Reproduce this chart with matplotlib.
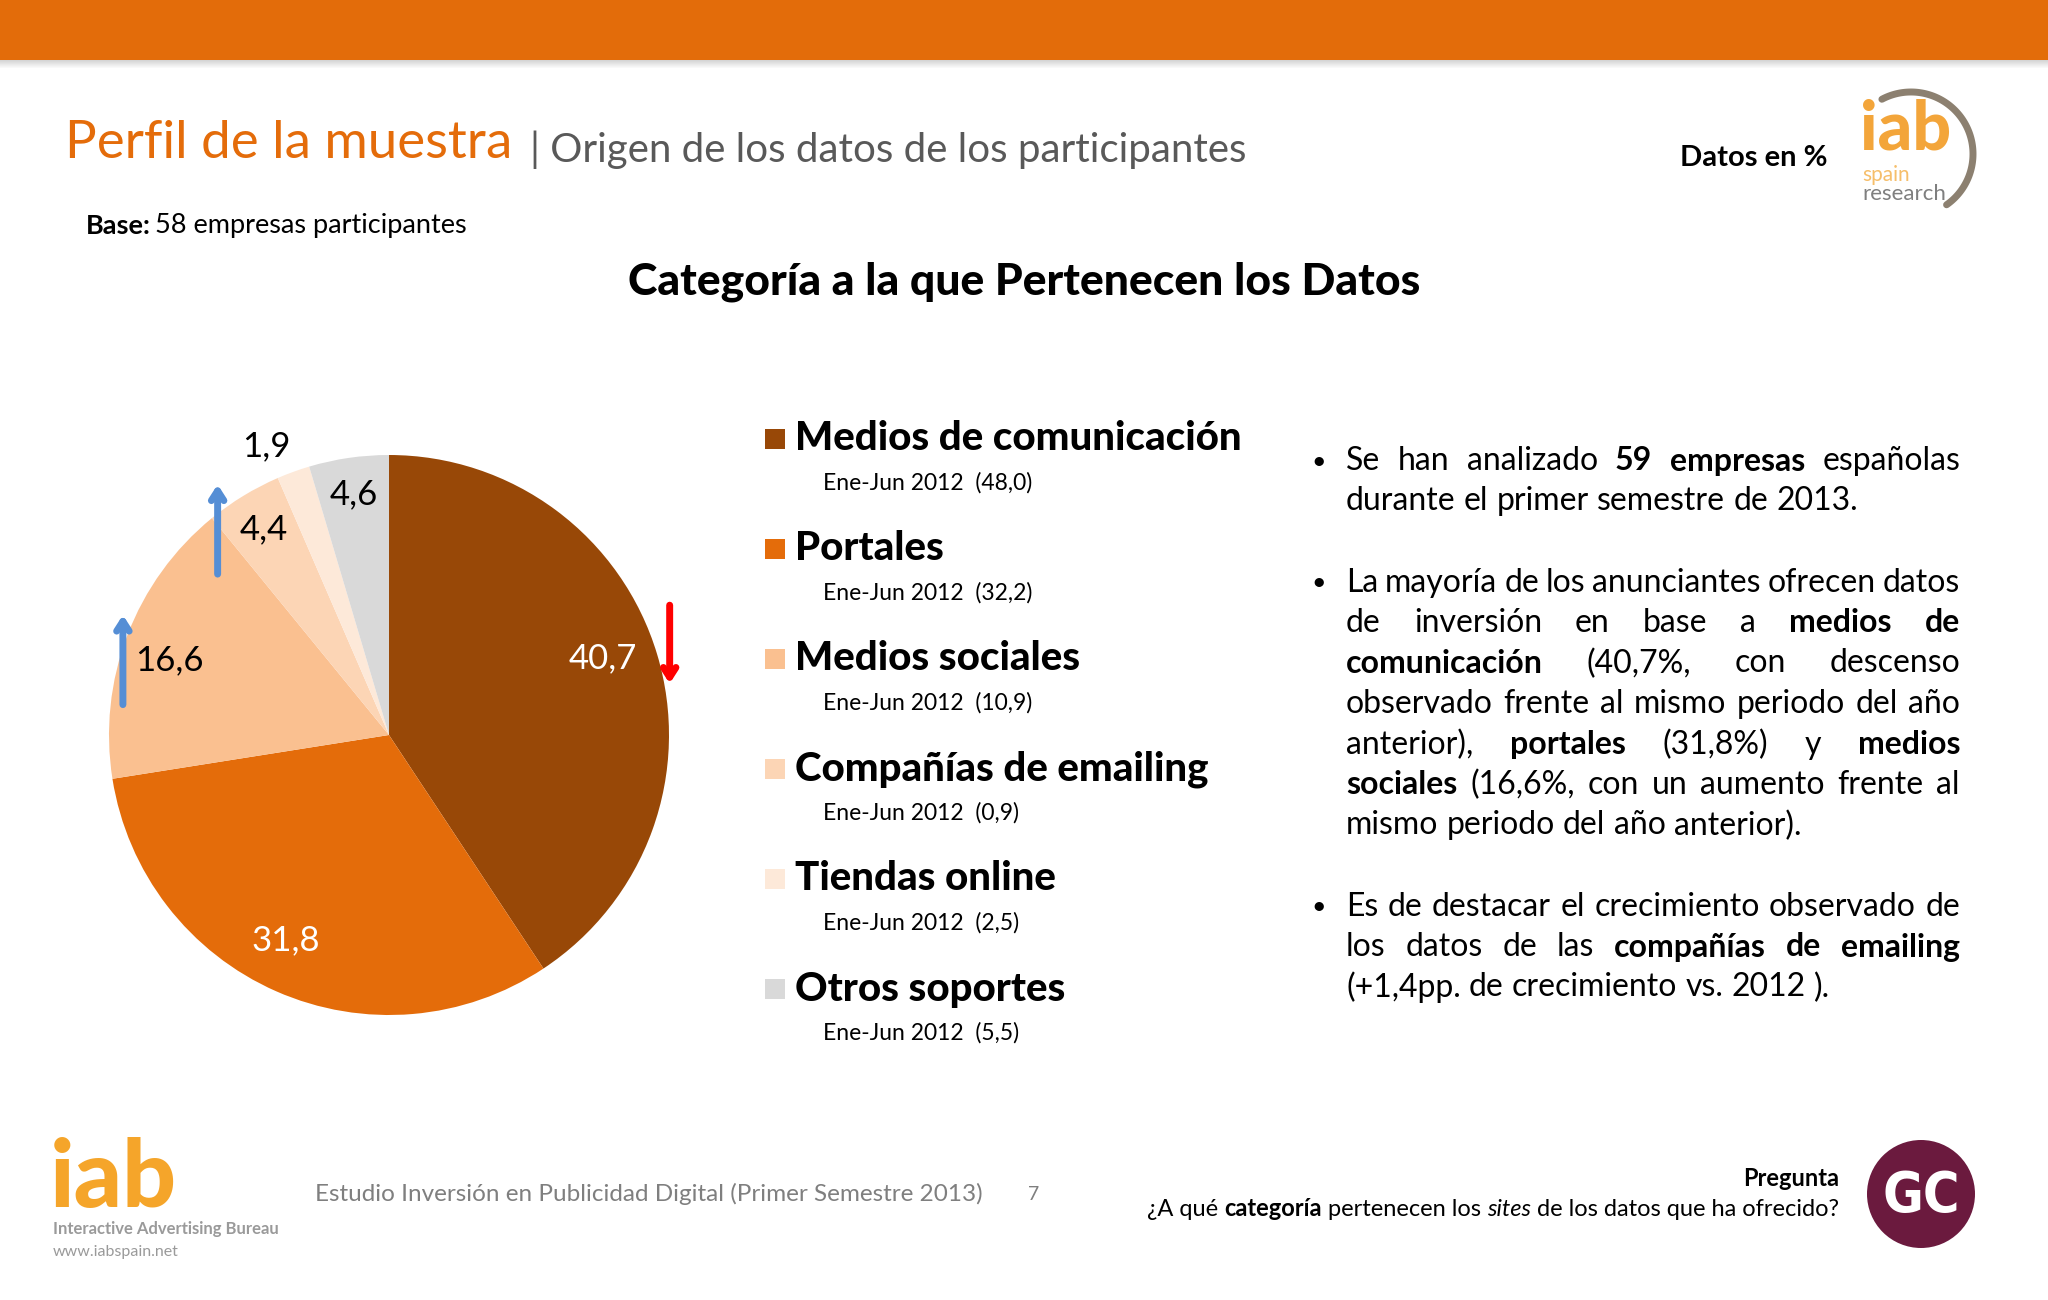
import numpy as np
import matplotlib
matplotlib.use('Agg')
import matplotlib.pyplot as plt
from matplotlib.patches import Rectangle, Circle

plt.rcParams['font.family'] = ['Lato', 'DejaVu Sans']

# datos del grafico
categorias = ['Medios de comunicación', 'Portales', 'Medios sociales',
              'Compañías de emailing', 'Tiendas online', 'Otros soportes']
valores_2013 = [40.7, 31.8, 16.6, 4.4, 1.9, 4.6]
etiquetas_2013 = ['40,7', '31,8', '16,6', '4,4', '1,9', '4,6']
valores_2012 = ['48,0', '32,2', '10,9', '0,9', '2,5', '5,5']
tendencia = ['down', None, 'up', 'up', None, None]
colores = ['#984807', '#E46C0A', '#FAC090', '#FCD5B5', '#FDE9D9', '#D9D9D9']
color_etiqueta = ['white', 'white', 'black', 'black', 'black', 'black']
radio_etiqueta = [0.81, 0.82, 0.83, 0.86, 1.12, 0.87]
giro_etiqueta = [3, -3, 2, 0, 3, 0]

bullets = [
    ['Se han analizado **59 empresas** españolas',
     'durante el primer semestre de 2013.'],
    ['La mayoría de los anunciantes ofrecen datos',
     'de inversión en base a **medios de**',
     '**comunicación** (40,7%, con descenso',
     'observado frente al mismo periodo del año',
     'anterior), **portales** (31,8%) y **medios**',
     '**sociales** (16,6%, con un aumento frente al',
     'mismo periodo del año anterior).'],
    ['Es de destacar el crecimiento observado de',
     'los datos de las **compañías de emailing**',
     '(+1,4pp. de crecimiento vs. 2012 ).'],
]

W, H = 2048, 1300
fig = plt.figure(figsize=(W / 100, H / 100), dpi=100)
bg = fig.add_axes([0, 0, 1, 1])
bg.set_xlim(0, W)
bg.set_ylim(H, 0)
bg.axis('off')
renderer = fig.canvas.get_renderer()


def ancho(t):
    return t.get_window_extent(renderer).width


# franja naranja superior con sombra
bg.add_patch(Rectangle((0, 0), W, 60, color='#E36C0A', lw=0))
for i in range(8):
    bg.add_patch(Rectangle((0, 60 + i), W, 1, color='#888888', alpha=0.35 * (1 - i / 8), lw=0))

# titulo
t = bg.text(65, 144, 'Perfil de la muestra', fontsize=38, color='#E46C0A', va='center')
x = 65 + ancho(t) + 18
bg.text(x, 150, '| Origen de los datos de los participantes', fontsize=29,
        color='#595959', va='center')
bg.text(1828, 158, 'Datos en %', fontsize=21, fontweight='bold', ha='right', va='center')

# logo iab research
bg.text(1860, 130, 'iab', fontsize=49, fontweight='black', color='#F3A53A', va='center')
bg.text(1862, 175, 'spain', fontsize=15, color='#F6BE6A', va='center')
bg.text(1862, 194, 'research', fontsize=16, color='#7F7F7F', va='center')
ang = np.radians(np.linspace(-55, 118, 100))
bg.plot(1911 + 62 * np.cos(ang), 154 - 62 * np.sin(ang), color='#8C8070', lw=5,
        solid_capstyle='round')

t = bg.text(86, 226, 'Base:', fontsize=19.5, fontweight='bold', va='center')
bg.text(86 + ancho(t) + 4, 226, '58 empresas participantes', fontsize=19.5, va='center')

bg.text(1024, 282, 'Categoría a la que Pertenecen los Datos', fontsize=32,
        fontweight='black', ha='center', va='center')

# tarta
cx, cy, r = 389, 735, 280
ax = fig.add_axes([(cx - r) / W, (H - cy - r) / H, 2 * r / W, 2 * r / H])
wedges, _ = ax.pie(valores_2013, colors=colores, startangle=90, counterclock=False,
                   radius=1, wedgeprops=dict(linewidth=0))
ax.set_xlim(-1, 1)
ax.set_ylim(-1, 1)
ax.set_aspect('equal')
ax.axis('off')
flecha = '->,head_length=0.7,head_width=0.45'
for w, lab, c, rr, g, tr in zip(wedges, etiquetas_2013, color_etiqueta, radio_etiqueta,
                                giro_etiqueta, tendencia):
    a = np.radians((w.theta1 + w.theta2) / 2 + g)
    lx, ly = rr * np.cos(a), rr * np.sin(a)
    ax.text(lx, ly, lab, fontsize=25, color=c, ha='center', va='center', clip_on=False)
    if tr == 'down':
        ax.annotate('', xy=(lx + 0.24, ly - 0.10), xytext=(lx + 0.24, ly + 0.20),
                    arrowprops=dict(arrowstyle=flecha, color='#FF0000', lw=5),
                    annotation_clip=False)
    elif tr == 'up':
        ax.annotate('', xy=(lx - 0.165, ly + 0.17), xytext=(lx - 0.165, ly - 0.17),
                    arrowprops=dict(arrowstyle=flecha, color='#558ED5', lw=5),
                    annotation_clip=False)

# leyenda
for i, (cat, v12, col) in enumerate(zip(categorias, valores_2012, colores)):
    y = 439 + i * 110
    bg.add_patch(Rectangle((765, y - 10), 20, 20, color=col, lw=0))
    bg.text(795, y, cat, fontsize=29, fontweight='black', va='center')
    bg.text(823, y + 44, 'Ene-Jun 2012  (%s)' % v12, fontsize=16.5, va='center')

# texto justificado
x0, x1 = 1346, 1960
tam = 23
fila = 0
for par in bullets:
    bg.text(1319, 461 + fila * 40.5, '•', fontsize=18, va='center', ha='center')
    for j, linea in enumerate(par):
        y = 461 + fila * 40.5
        tokens = []
        for k, seg in enumerate(linea.split('**')):
            for pal in seg.split():
                tokens.append((pal, k % 2 == 1))
        textos = [bg.text(0, y, p, fontsize=tam, va='center',
                          fontweight='bold' if b else 'normal') for p, b in tokens]
        anchos = [ancho(tt) for tt in textos]
        if j == len(par) - 1:
            hueco = ancho(bg.text(0, 0, 'a a', fontsize=tam, alpha=0)) - \
                2 * ancho(bg.text(0, 0, 'a', fontsize=tam, alpha=0))
        else:
            hueco = (x1 - x0 - sum(anchos)) / (len(textos) - 1)
        xx = x0
        for tt, wd in zip(textos, anchos):
            tt.set_x(xx)
            xx += wd + hueco
        fila += 1
    fila += 1

# pie de pagina
bg.text(50, 1137, 'iab', fontsize=68, fontweight='black', color='#F5A52A', va='top')
bg.text(53, 1229, 'Interactive Advertising Bureau', fontsize=12, fontweight='bold',
        color='#9A9A9A', va='center')
bg.text(53, 1252, 'www.iabspain.net', fontsize=11.5, color='#9A9A9A', va='center')
bg.text(315, 1194, 'Estudio Inversión en Publicidad Digital (Primer Semestre 2013)',
        fontsize=17.5, color='#7F7F7F', va='center')
bg.text(1028, 1194, '7', fontsize=14, color='#7F7F7F', va='center')

bg.text(1839, 1179, 'Pregunta', fontsize=17, fontweight='bold', ha='right', va='center')
segs = [('¿A qué ', 'normal', 'normal'), ('categoría', 'bold', 'normal'),
        (' pertenecen los ', 'normal', 'normal'), ('sites', 'normal', 'italic'),
        (' de los datos que ha ofrecido?', 'normal', 'normal')]
xx = 1839
for s, fw, st in reversed(segs):
    tt = bg.text(xx, 1209, s, fontsize=17, fontweight=fw, style=st, ha='right', va='center')
    xx -= ancho(tt)

bg.add_patch(Circle((1921, 1194), 54, color='#6B1A3E', lw=0))
bg.text(1921, 1196, 'GC', fontsize=40, fontweight='bold', color='white',
        ha='center', va='center', family='DejaVu Sans', stretch='condensed')

fig.savefig('out.png', dpi=100)
